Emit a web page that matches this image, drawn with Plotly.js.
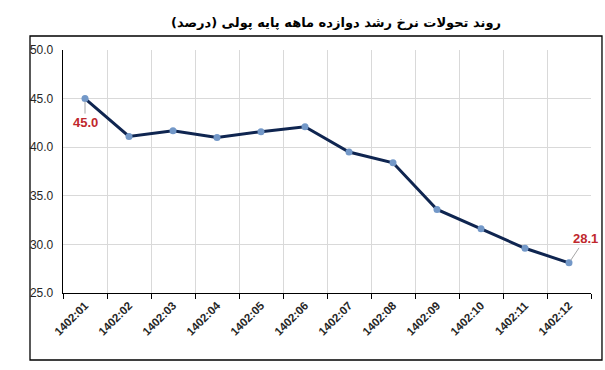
<!DOCTYPE html>
<html>
<head>
<meta charset="utf-8">
<script src="https://cdn.plot.ly/plotly-3.0.1.min.js"></script>
<style>html,body{margin:0;padding:0;background:#fff;}#chart{width:605px;height:370px;}</style>
</head>
<body>
<div id="chart"></div>
<script>
const months = ["1402:01","1402:02","1402:03","1402:04","1402:05","1402:06","1402:07","1402:08","1402:09","1402:10","1402:11","1402:12"];
const growth = [45.0, 41.1, 41.7, 41.0, 41.6, 42.1, 39.5, 38.4, 33.6, 31.6, 29.6, 28.1];
const labelIdx = [0, 11];
const chartTitle = "روند تحولات نرخ رشد دوازده ماهه پایه پولی (درصد)";

const trace = {
  x: months, y: growth, type: "scatter", mode: "lines+markers",
  line: {color: "#0f2550", width: 3},
  marker: {color: "#7398c8", size: 7},
  cliponaxis: false, hoverinfo: "skip"
};

const offsets = [[0, 24], [16, -24]];
const annotations = labelIdx.map((i, k) => ({
  x: months[i], y: growth[i], xref: "x", yref: "y",
  text: "<b>" + growth[i].toFixed(1) + "</b>",
  showarrow: true, arrowhead: 0, arrowwidth: 1, arrowcolor: "#a6a6a6",
  ax: offsets[k][0], ay: offsets[k][1], standoff: 3,
  font: {family: "Liberation Sans, Arial, sans-serif", size: 13, color: "#c0282d"}
}));

const layout = {
  width: 605, height: 370,
  margin: {l: 63, r: 14, t: 50, b: 77},
  paper_bgcolor: "#fff", plot_bgcolor: "#fff",
  showlegend: false,
  title: {text: "<b>" + chartTitle + "</b>", x: 0.517, xref: "paper", y: 0.94, yref: "container", yanchor: "middle",
    font: {family: "DejaVu Sans, sans-serif", size: 13, color: "#000"}},
  xaxis: {
    type: "category", range: [-0.5, 11.5], tickson: "boundaries",
    showgrid: true, gridcolor: "#d9d9d9", gridwidth: 1,
    showline: true, linecolor: "#000", linewidth: 1.3,
    ticks: "outside", ticklen: 5, tickcolor: "#000",
    tickangle: -45,
    tickfont: {family: "Liberation Sans, Arial, sans-serif", size: 11.5, color: "#262626", weight: "bold"},
    zeroline: false, fixedrange: true
  },
  yaxis: {
    range: [25, 50], dtick: 5, tickformat: ".1f",
    showgrid: true, gridcolor: "#d9d9d9", gridwidth: 1,
    showline: true, linecolor: "#000", linewidth: 1.3,
    ticks: "", ticklabelstandoff: 6,
    tickfont: {family: "Liberation Sans, Arial, sans-serif", size: 12, color: "#262626"},
    zeroline: false, fixedrange: true
  },
  annotations: annotations,
  shapes: [{
    type: "rect", xref: "paper", yref: "paper",
    x0: -0.0625, x1: 1.0208, y0: -0.2757, y1: 1.0576,
    line: {color: "#000", width: 1.3}, fillcolor: "rgba(0,0,0,0)", layer: "above"
  }]
};

Plotly.newPlot("chart", [trace], layout, {displayModeBar: false, staticPlot: true});
</script>
</body>
</html>
